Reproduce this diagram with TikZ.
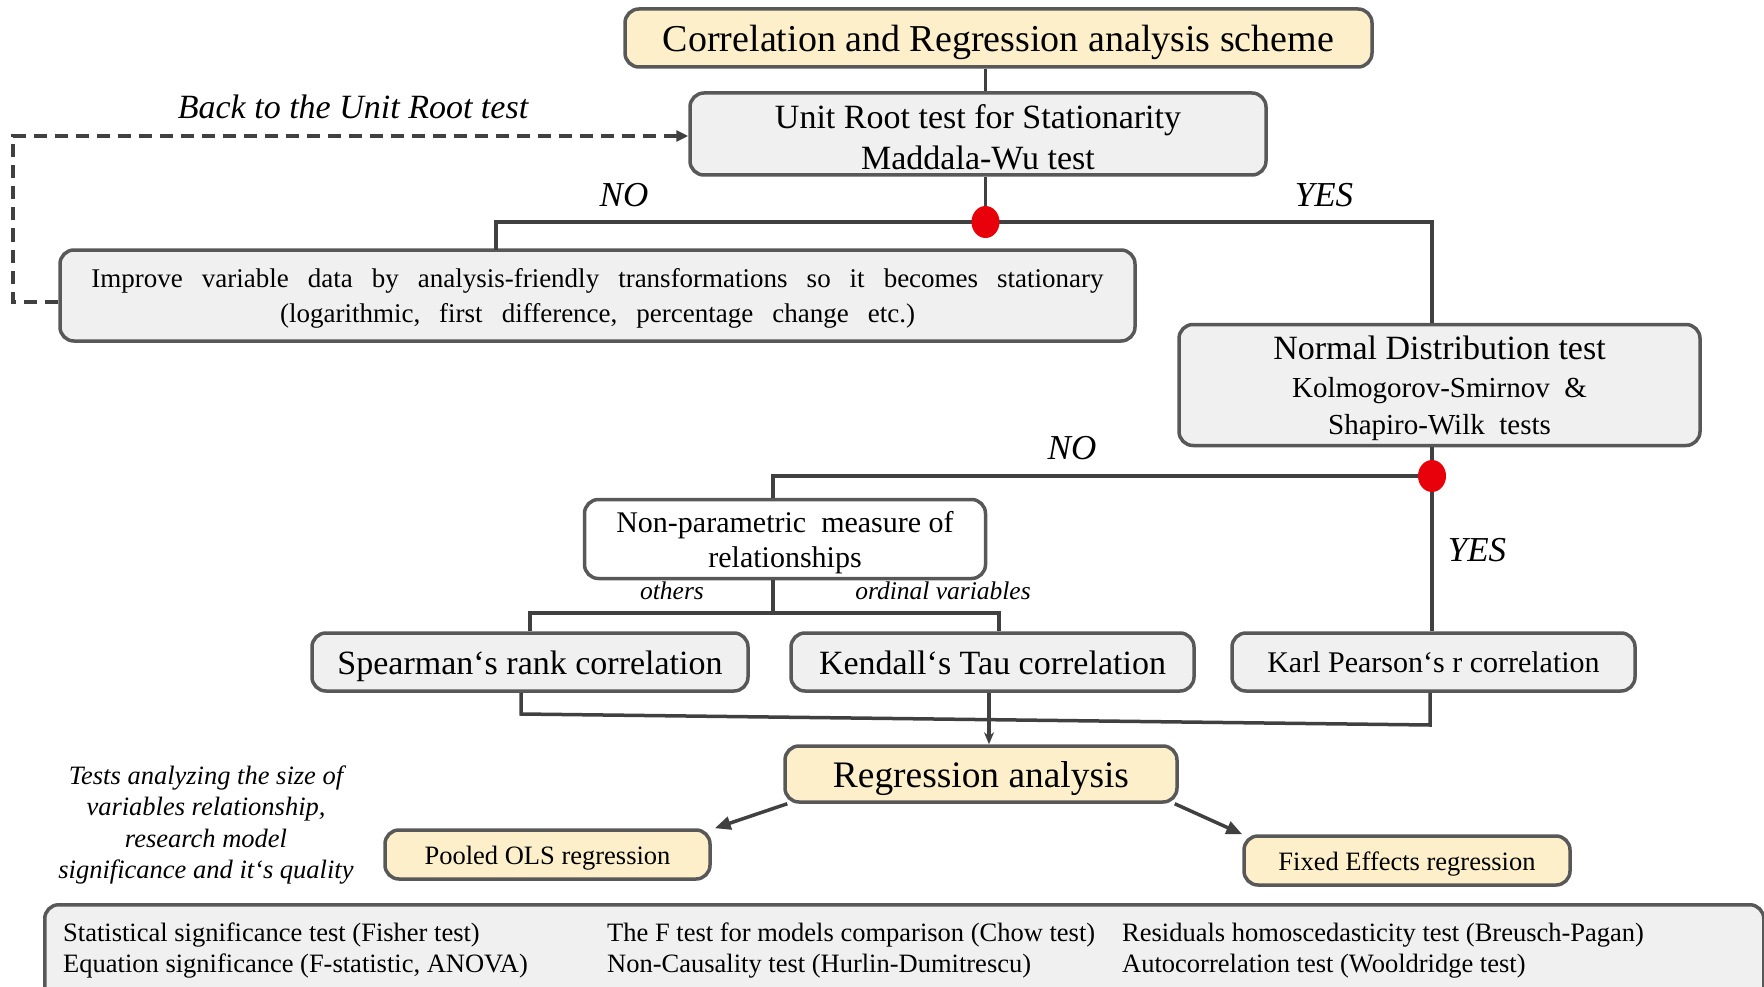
\documentclass[tikz,border=0pt]{standalone}
\usepackage{fontspec}
\setmainfont{Liberation Serif}
\usetikzlibrary{arrows.meta,shapes.geometric}
\definecolor{boxyellow}{RGB}{252,239,202}
\definecolor{boxgray}{RGB}{240,240,240}
\definecolor{edgegray}{RGB}{88,88,88}
\definecolor{linegray}{RGB}{64,64,64}
\definecolor{dotred}{RGB}{232,0,10}
\newcommand\sizept[2]{\fontsize{#1}{#2}\selectfont}
\newcommand\widespaces{\spaceskip=19pt plus 2pt minus 2pt\relax}
\begin{document}
\begin{tikzpicture}[x=1pt,y=-1pt,
  box/.style={draw=edgegray, line width=3.5pt, rounded corners=14pt, inner sep=0pt, align=center, text=black},
  ybox/.style={box, fill=boxyellow},
  gbox/.style={box, fill=boxgray},
  wbox/.style={box, fill=white},
  conn/.style={draw=linegray, line width=3.5pt},
  reddot/.style={ellipse, fill=dotred, minimum width=28pt, minimum height=32pt, inner sep=0pt},
  lbl/.style={font=\itshape\sizept{35}{37}, inner sep=0pt},
  small/.style={font=\itshape\sizept{25.5}{27}, inner sep=0pt},
  testline/.style={anchor=west, inner sep=0pt, font=\sizept{26.5}{28}},
]
\useasboundingbox (0,0) rectangle (1764,987);

% main flow boxes
\node[ybox, minimum width=747pt, minimum height=58pt, font=\sizept{38}{38}, text height=36.6pt, text depth=9.5pt] (title) at (998.5,38) {Correlation and Regression analysis scheme};
\node[gbox, minimum width=576pt, minimum height=82pt, font=\sizept{34}{40.5}] (unit) at (978,134) {\rule{0pt}{31pt}Unit Root test for Stationarity\\Maddala-Wu test};
\node[gbox, minimum width=1075pt, minimum height=91pt, font=\sizept{27}{35}] (impr) at (597.5,295.5) {\widespaces\rule{0pt}{25.5pt}Improve variable data by analysis-friendly transformations so it becomes stationary\\\widespaces(logarithmic, first difference, percentage change etc.)};
\node[gbox, minimum width=521pt, minimum height=121pt, font=\sizept{29}{37.5}] (norm) at (1439.5,385) {{\sizept{34}{37.5}\rule{0pt}{31pt}Normal Distribution test}\\Kolmogorov-Smirnov\ \ \&\\Shapiro-Wilk\ \ tests};
\node[wbox, minimum width=401pt, minimum height=79pt, font=\sizept{30}{35}] (npar) at (785,539) {\rule{0pt}{28.5pt}Non-parametric\ \ measure of\\relationships};
\node[gbox, minimum width=436pt, minimum height=58pt, font=\sizept{34}{34}, text height=33pt, text depth=8.5pt] (spear) at (530,662) {Spearman‘s rank correlation};
\node[gbox, minimum width=403pt, minimum height=58pt, font=\sizept{34}{34}, text height=33pt, text depth=8.5pt] (kend) at (992.5,662) {Kendall‘s Tau correlation};
\node[gbox, minimum width=403pt, minimum height=58pt, font=\sizept{30}{30}, text height=29.3pt, text depth=7.5pt] (karl) at (1433.5,662) {Karl Pearson‘s r correlation};
\node[ybox, minimum width=392pt, minimum height=56pt, font=\sizept{37.4}{38}, text height=36pt, text depth=9.4pt] (regr) at (981,774) {Regression analysis};
\node[ybox, minimum width=325pt, minimum height=49pt, font=\sizept{26.5}{27}, text height=26.1pt, text depth=6.6pt] (pool) at (547.5,854.5) {Pooled OLS regression};
\node[ybox, minimum width=326pt, minimum height=49pt, font=\sizept{26.5}{27}, text height=26.1pt, text depth=6.6pt] (fix) at (1407,860.5) {Fixed Effects regression};

% tests panel, running off the page edge
\begin{scope}
  \clip (0,0) rectangle (1764,987);
  \node[gbox, anchor=north west, minimum width=1719pt, minimum height=110pt] (tests) at (43,903) {};
\end{scope}
\node[testline] (t1) at (63,935) {Statistical significance test (Fisher test)};
\node[testline] (t2) at (63,966) {Equation significance (F-statistic, ANOVA)};
\node[testline] (t3) at (607,935) {The F test for models comparison (Chow test)};
\node[testline] (t4) at (607,966) {Non-Causality test (Hurlin-Dumitrescu)};
\node[testline] (t5) at (1122,935) {Residuals homoscedasticity test (Breusch-Pagan)};
\node[testline] (t6) at (1122,966) {Autocorrelation test (Wooldridge test)};

% junction points
\coordinate (j1) at (985.5,222);
\coordinate (j2) at (1432,476);
\coordinate (j3) at (773,613);
\coordinate (imprtop) at (496,250);
\coordinate (kx) at (999,0);
\coordinate (ax) at (989,0);
\coordinate (m1) at (521,714);
\coordinate (m2) at (1430,725);

% connectors
\draw[conn] (title.south -| j1) -- (unit.north -| j1);
\draw[conn] (unit.south -| j1) -- (j1);
\draw[conn] (j1) -| (imprtop);
\draw[conn] (j1) -| (norm.north -| j2);
\draw[conn] (norm.south -| j2) -- (j2);
\draw[conn] (j2) -- (karl.north -| j2);
\draw[conn] (j2) -| (npar.north -| j3);
\draw[conn] (npar.south -| j3) -- (j3);
\draw[conn] (j3) -| (spear.north);
\draw[conn] (j3) -| (kend.north -| kx);
\draw[conn] (spear.south -| m1) -- (m1) -- (m2) -- (karl.south -| m2);
\draw[conn, -{Stealth[length=12pt,width=10pt]}] (kend.south -| ax) -- (regr.north -| ax);
\draw[conn, -{Triangle[length=16pt,width=13pt]}] ([xshift=4pt]regr.south west) -- ([xshift=3pt]pool.north east);
\draw[conn, -{Triangle[length=16pt,width=13pt]}] ([xshift=-4pt]regr.south east) -- (fix.north west);
\draw[conn, line width=4pt, dash pattern=on 13pt off 8pt, -{Triangle[length=12pt,width=11pt]}] ([yshift=-6pt]impr.west) -- ++(-45,0) |- ([yshift=-2pt]unit.west);

% decision dots
\node[reddot] (d1) at (j1) {};
\node[reddot] (d2) at (j2) {};

% labels
\node[lbl, font=\itshape\sizept{34}{36}] (back) at (353,107) {Back to the Unit Root test};
\node[lbl] (no1) at (624,195) {NO};
\node[lbl] (yes1) at (1324,195) {YES};
\node[lbl] (no2) at (1072,448) {NO};
\node[lbl] (yes2) at (1477,550) {YES};
\node[small] (oth) at (672,591) {others};
\node[small] (ord) at (943,591) {ordinal variables};
\node[align=center, inner sep=0pt, font=\itshape\sizept{26.5}{31.3}] (note) at (206,825) {Tests analyzing the size of\\variables relationship,\\research model\\significance and it‘s quality};
\end{tikzpicture}
\end{document}
